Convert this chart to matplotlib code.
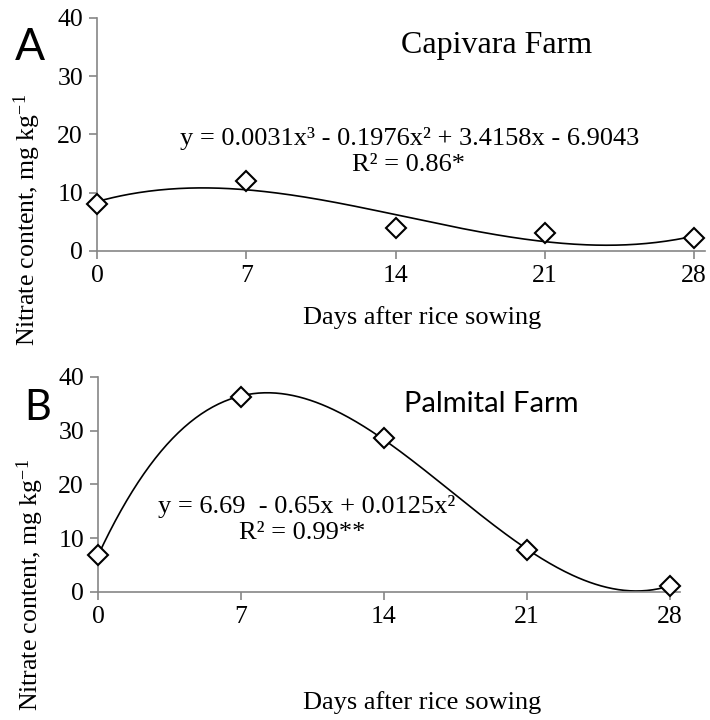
import numpy as np
import matplotlib.pyplot as plt

days = [0, 7, 14, 21, 28]
capivara = [8.1, 12.0, 4.0, 3.1, 2.2]
palmital = [6.8, 36.3, 28.6, 7.8, 1.2]

eq_a = 'y = 0.0031x³ - 0.1976x² + 3.4158x - 6.9043'
r2_a = 'R² = 0.86*'
eq_b = 'y = 6.69  - 0.65x + 0.0125x²'
r2_b = 'R² = 0.99**'
ylab = 'Nitrate content, mg kg$^{-1}$'
xlab = 'Days after rice sowing'

serif = 'Liberation Serif'
sans = 'Lato'
grey = '#868686'

plt.rcParams['mathtext.fontset'] = 'custom'
plt.rcParams['mathtext.rm'] = serif
plt.rcParams['mathtext.default'] = 'rm'

fig = plt.figure(figsize=(7.1, 7.2), dpi=100)
ax1 = fig.add_axes([0.1366, 0.6514, 0.856, 0.3236])
ax2 = fig.add_axes([0.138, 0.1778, 0.82, 0.2986])


def style(ax, vals):
    xs = np.linspace(0, 28, 300)
    coef = np.polyfit(days, vals, 3)
    ax.plot(xs, np.polyval(coef, xs), color='black', lw=1.2, zorder=2)
    ax.plot(days, vals, linestyle='none', marker='D', markersize=10,
            markerfacecolor='white', markeredgecolor='black', markeredgewidth=1.5,
            zorder=3, clip_on=False)
    ax.set_xlim(0, 28.5)
    ax.set_ylim(0, 40)
    ax.set_xticks(days)
    ax.set_yticks([0, 10, 20, 30, 40])
    for s in ['top', 'right']:
        ax.spines[s].set_visible(False)
    for s in ['left', 'bottom']:
        ax.spines[s].set_color(grey)
        ax.spines[s].set_linewidth(1.2)
    ax.tick_params(direction='out', length=6, width=1.2, color=grey, labelsize=18.5, pad=4)
    for lab in ax.get_xticklabels() + ax.get_yticklabels():
        lab.set_fontfamily(serif)


style(ax1, capivara)
style(ax2, palmital)

# panel A texts
fig.text(30 / 710, 1 - 48 / 720, 'A', family=sans, fontsize=32, ha='center', va='center')
fig.text(497 / 710, 1 - 45 / 720, 'Capivara Farm', family=serif, fontsize=23, ha='center', va='center')
fig.text(410 / 710, 1 - 138 / 720, eq_a, family=serif, fontsize=19, ha='center', va='center')
fig.text(409 / 710, 1 - 165 / 720, r2_a, family=serif, fontsize=19, ha='center', va='center')
fig.text(27 / 710, 1 - 220 / 720, ylab, family=serif, fontsize=18.5,
         rotation=90, ha='center', va='center')
fig.text(422 / 710, 1 - 318 / 720, xlab, family=serif, fontsize=19,
         ha='center', va='center')

# panel B texts
fig.text(38 / 710, 1 - 408 / 720, 'B', family=sans, fontsize=30, ha='center', va='center')
fig.text(491 / 710, 1 - 404 / 720, 'Palmital Farm', family=sans, fontsize=21, ha='center', va='center')
fig.text(307 / 710, 1 - 507 / 720, eq_b, family=serif, fontsize=19, ha='center', va='center')
fig.text(302 / 710, 1 - 533 / 720, r2_b, family=serif, fontsize=19, ha='center', va='center')
fig.text(30 / 710, 1 - 585 / 720, ylab, family=serif, fontsize=18.5,
         rotation=90, ha='center', va='center')
fig.text(422 / 710, 1 - 703 / 720, xlab, family=serif, fontsize=19,
         ha='center', va='center')

plt.savefig('out.png', dpi=100)
